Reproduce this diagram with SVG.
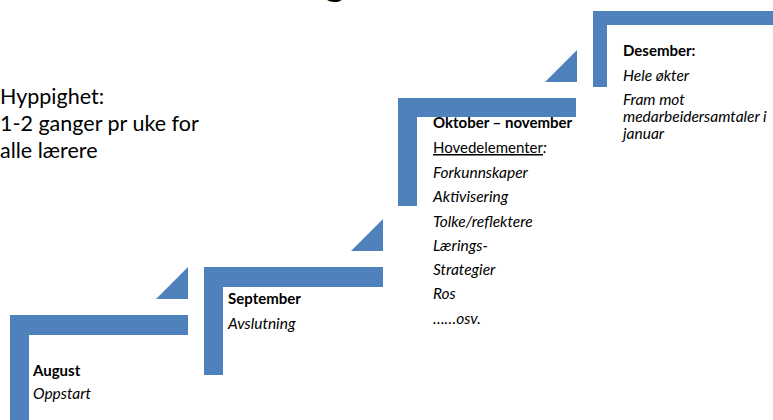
<svg xmlns="http://www.w3.org/2000/svg" width="773" height="420" viewBox="0 0 773 420">
<style>
  .step { fill: #4F81BD; }
  .t { font-family: Lato, "Open Sans", "Liberation Sans", sans-serif; fill: #000; }
  .n { font-size: 15px; }
  .b { font-weight: bold; }
  .i { font-style: italic; font-size: 15.5px; }
  .big { font-size: 21.5px; }
</style>
<rect width="773" height="420" fill="#ffffff"/>
<g id="title">
  <text class="t" x="324" y="-5" font-size="42">g</text>
</g>
<g id="frequency">
  <text class="t big" x="0" y="104">Hyppighet:</text>
  <text class="t big" x="0" y="131">1-2 ganger pr uke for</text>
  <text class="t big" x="0" y="158">alle lærere</text>
</g>
<g id="connectors">
  <path class="step" d="M188,267 L188,299 L156,299 Z"/>
  <path class="step" d="M383,219 L383,251 L351,251 Z"/>
  <path class="step" d="M577,50 L577,82 L545,82 Z"/>
</g>
<g id="august">
  <path class="step" d="M10,315 H188 V335 H29 V422 H10 Z"/>
  <text class="t n b" x="33" y="376">August</text>
  <text class="t n i" x="33" y="399">Oppstart</text>
</g>
<g id="september">
  <path class="step" d="M204,267 H383 V287 H223 V375 H204 Z"/>
  <text class="t n b" x="228" y="304">September</text>
  <text class="t n i" x="228" y="329">Avslutning</text>
</g>
<g id="oktober-november">
  <path class="step" d="M398,98 H576 V117 H417 V206 H398 Z"/>
  <text class="t n b" x="433" y="128">Oktober – november</text>
  <text class="t n" x="433" y="153"><tspan text-decoration="underline">Hovedelementer</tspan><tspan class="i">:</tspan></text>
  <text class="t n i" x="433" y="178">Forkunnskaper</text>
  <text class="t n i" x="433" y="202">Aktivisering</text>
  <text class="t n i" x="433" y="227">Tolke/reflektere</text>
  <text class="t n i" x="433" y="251">Lærings-</text>
  <text class="t n i" x="433" y="275">Strategier</text>
  <text class="t n i" x="433" y="299">Ros</text>
  <text class="t n i" x="433" y="324">……osv.</text>
</g>
<g id="desember">
  <path class="step" d="M593,11 H775 V25 H607 V87 H593 Z"/>
  <text class="t n b" x="623" y="56">Desember:</text>
  <text class="t n i" x="623" y="81">Hele økter</text>
  <text class="t n i" x="623" y="105">Fram mot</text>
  <text class="t n i" x="623" y="122">medarbeidersamtaler i</text>
  <text class="t n i" x="623" y="139">januar</text>
</g>
</svg>
